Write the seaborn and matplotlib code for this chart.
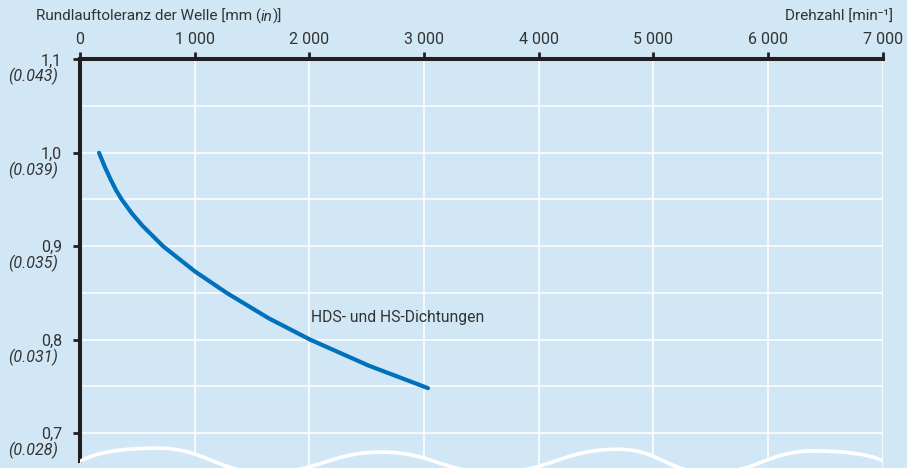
import numpy as np
import pandas as pd
import seaborn as sns
import matplotlib.pyplot as plt
from matplotlib.path import Path
from matplotlib.patches import PathPatch

# curve: shaft speed [min-1] vs. permissible runout [mm]
speed = [166, 216, 265, 314, 364, 453, 544, 634, 724, 1002, 1279, 1643, 2006, 2520, 3035]
runout = [1.000, 0.985, 0.972, 0.960, 0.950, 0.935, 0.922, 0.911, 0.900, 0.873, 0.850,
          0.823, 0.800, 0.772, 0.748]

x_ticks = [0, 1000, 2000, 3000, 4000, 5000, 6000, 7000]
x_labels = ["0", "1 000", "2 000", "3 000", "4 000", "5 000", "6 000", "7 000"]
y_ticks = [0.7, 0.8, 0.9, 1.0, 1.1]
y_labels = ["0,7", "0,8", "0,9", "1,0", "1,1"]
y_labels_in = ["(0.028)", "(0.031)", "(0.035)", "(0.039)", "(0.043)"]

# axis break wave along the bottom edge (turning points)
wave_x = [0, 671, 1622, 2634, 3602, 4692, 5494, 6400, 6994]
wave_y = [0.6696, 0.6838, 0.6575, 0.6795, 0.6575, 0.6826, 0.6570, 0.6808, 0.6707]

bg = "#D1E7F6"
ink = "#333333"
blue = "#0071BA"

sns.set_style("white", rc={"axes.facecolor": bg, "figure.facecolor": bg})
plt.rcParams["font.family"] = ["Roboto", "DejaVu Sans"]

df = pd.DataFrame({"speed": speed, "runout": runout})

fig = plt.figure(figsize=(9.07, 4.68), dpi=100)
ax = fig.add_axes([80 / 907, 0, 802.7 / 907, (468 - 59.4) / 468])

sns.lineplot(data=df, x="speed", y="runout", ax=ax, color=blue, lw=3.0,
             solid_capstyle="round", solid_joinstyle="round", zorder=4)

ax.set_xlim(0, 7000)
ax.set_ylim(0.6625, 1.1)
ax.set_xlabel("")
ax.set_ylabel("")

# grid: every 1000 min-1 and every 0.05 mm
ax.set_xticks(x_ticks)
ax.set_xticklabels(x_labels)
ax.set_yticks(y_ticks)
ax.set_yticklabels(y_labels)
ax.set_yticks([0.75, 0.85, 0.95, 1.05], minor=True)
ax.grid(True, which="both", color="white", lw=1.1, zorder=1)
ax.set_axisbelow(True)

ax.xaxis.tick_top()
ax.tick_params(axis="x", which="major", top=True, bottom=False, length=5, width=2,
               color="#231F20", pad=4, labelsize=11.5, labelcolor=ink)
ax.tick_params(axis="y", which="major", left=True, length=5, width=2,
               color="#231F20", pad=8, labelsize=11.5, labelcolor=ink)
ax.tick_params(axis="y", which="minor", length=0)

for s in ["right", "bottom"]:
    ax.spines[s].set_visible(False)
for s in ["top", "left"]:
    ax.spines[s].set_visible(True)
    ax.spines[s].set_color("#231F20")
    ax.spines[s].set_linewidth(2.9)
ax.spines["left"].set_bounds(wave_y[0], 1.1)

# inch values below the mm tick labels
for yv, lab in zip(y_ticks, y_labels_in):
    ax.annotate(lab, xy=(0, yv), xycoords=("axes fraction", "data"),
                xytext=(-16, -12.5), textcoords="offset points",
                ha="right", va="center", style="italic", fontsize=11.5, color=ink)

# wavy break line, area below it masked with background
verts = [(wave_x[0], wave_y[0])]
codes = [Path.MOVETO]
last = len(wave_x) - 1
for i in range(1, len(wave_x)):
    x0, y0 = wave_x[i - 1], wave_y[i - 1]
    x1, y1 = wave_x[i], wave_y[i]
    dx = x1 - x0
    if i == 1:
        verts += [(x1 - dx * 0.7, y1), (x1, y1)]
        codes += [Path.CURVE3] * 2
    elif i == last:
        verts += [(x0 + dx * 0.7, y0), (x1, y1)]
        codes += [Path.CURVE3] * 2
    else:
        verts += [(x0 + dx * 0.45, y0), (x1 - dx * 0.45, y1), (x1, y1)]
        codes += [Path.CURVE4] * 3
fill_verts = verts + [(7000, 0.6), (0, 0.6), (0, wave_y[0])]
fill_codes = codes + [Path.LINETO, Path.LINETO, Path.CLOSEPOLY]
ax.add_patch(PathPatch(Path(fill_verts, fill_codes), facecolor=bg, edgecolor="none", zorder=2))
ax.add_patch(PathPatch(Path(verts, codes), facecolor="none", edgecolor="white", lw=2.6,
                       capstyle="round", zorder=3))

ax.text(2016, 0.824, "HDS- und HS-Dichtungen", ha="left", va="center",
        fontsize=11.3, color=ink, zorder=5)

# axis titles
t1 = fig.text(36 / 907, 1 - 21 / 468, "Rundlauftoleranz der Welle [mm (", ha="left",
              va="baseline", fontsize=11, color=ink)
t2 = ax.annotate("in", xy=(1, 0), xycoords=t1, va="bottom", ha="left",
                 style="italic", fontsize=11, color=ink, annotation_clip=False)
ax.annotate(")]", xy=(1, 0), xycoords=t2, va="bottom", ha="left",
            fontsize=11, color=ink, annotation_clip=False)
fig.text(893 / 907, 1 - 21 / 468, "Drehzahl [min\u207b\u00b9]", ha="right",
         va="baseline", fontsize=11, color=ink)

fig.savefig("out.png", dpi=100, facecolor=bg)
